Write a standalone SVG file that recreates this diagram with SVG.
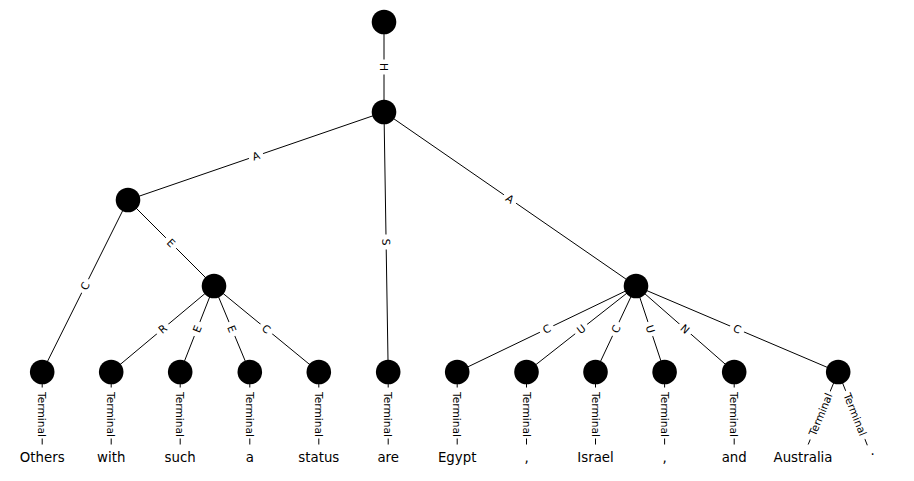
<svg xmlns="http://www.w3.org/2000/svg" width="914" height="481" viewBox="0 0 914 481">
<style>
.e{stroke:#000;stroke-width:1;fill:none}
.n{fill:#000}
.lb{fill:#fff;stroke:#fff}
.el{font-family:"DejaVu Sans",sans-serif;font-size:10.67px;fill:#000;text-anchor:middle}
.w{font-family:"DejaVu Sans",sans-serif;font-size:13.33px;fill:#000;text-anchor:middle}
</style>
<rect width="914" height="481" fill="#fff"/>
<g id="connectors">
<line class="e" x1="384" y1="22" x2="384" y2="112"/>
<line class="e" x1="384" y1="112" x2="128" y2="200"/>
<line class="e" x1="384" y1="112" x2="388.2" y2="372"/>
<line class="e" x1="384" y1="112" x2="636" y2="286"/>
<line class="e" x1="128" y1="200" x2="42.2" y2="372"/>
<line class="e" x1="128" y1="200" x2="214" y2="286"/>
<line class="e" x1="214" y1="286" x2="111.2" y2="372"/>
<line class="e" x1="214" y1="286" x2="180.2" y2="372"/>
<line class="e" x1="214" y1="286" x2="249.8" y2="372"/>
<line class="e" x1="214" y1="286" x2="318.8" y2="372"/>
<line class="e" x1="636" y1="286" x2="457.2" y2="372"/>
<line class="e" x1="636" y1="286" x2="526.5" y2="372"/>
<line class="e" x1="636" y1="286" x2="595.5" y2="372"/>
<line class="e" x1="636" y1="286" x2="664.6" y2="372"/>
<line class="e" x1="636" y1="286" x2="734.2" y2="372"/>
<line class="e" x1="636" y1="286" x2="838.2" y2="372"/>
<line class="e" x1="42.2" y1="372" x2="42.2" y2="457"/>
<line class="e" x1="111.2" y1="372" x2="111.2" y2="457"/>
<line class="e" x1="180.2" y1="372" x2="180.2" y2="457"/>
<line class="e" x1="249.8" y1="372" x2="249.8" y2="457"/>
<line class="e" x1="318.8" y1="372" x2="318.8" y2="457"/>
<line class="e" x1="388.2" y1="372" x2="388.2" y2="457"/>
<line class="e" x1="457.2" y1="372" x2="457.2" y2="457"/>
<line class="e" x1="526.5" y1="372" x2="526.5" y2="457"/>
<line class="e" x1="595.5" y1="372" x2="595.5" y2="457"/>
<line class="e" x1="664.6" y1="372" x2="664.6" y2="457"/>
<line class="e" x1="734.2" y1="372" x2="734.2" y2="457"/>
<line class="e" x1="838.2" y1="372" x2="803" y2="457"/>
<line class="e" x1="838.2" y1="372" x2="872" y2="457"/>
<!-- edge labels -->
<g transform="translate(384,67) rotate(90)"><rect class="lb" x="-7" y="-9" width="14" height="18" rx="3"/><text class="el" y="3.8">H</text></g>
<g transform="translate(256,156) rotate(-19)"><rect class="lb" x="-7" y="-9" width="14" height="18" rx="3"/><text class="el" y="3.8">A</text></g>
<g transform="translate(386.1,242) rotate(89.1)"><rect class="lb" x="-7" y="-9" width="14" height="18" rx="3"/><text class="el" y="3.8">S</text></g>
<g transform="translate(510,199) rotate(34.6)"><rect class="lb" x="-7" y="-9" width="14" height="18" rx="3"/><text class="el" y="3.8">A</text></g>
<g transform="translate(85.1,286) rotate(-63.4)"><rect class="lb" x="-7" y="-9" width="14" height="18" rx="3"/><text class="el" y="3.8">C</text></g>
<g transform="translate(171,243) rotate(45)"><rect class="lb" x="-7" y="-9" width="14" height="18" rx="3"/><text class="el" y="3.8">E</text></g>
<g transform="translate(162.6,329) rotate(-39.9)"><rect class="lb" x="-7" y="-9" width="14" height="18" rx="3"/><text class="el" y="3.8">R</text></g>
<g transform="translate(197.1,329) rotate(-68.4)"><rect class="lb" x="-7" y="-9" width="14" height="18" rx="3"/><text class="el" y="3.8">E</text></g>
<g transform="translate(231.9,329) rotate(67.9)"><rect class="lb" x="-7" y="-9" width="14" height="18" rx="3"/><text class="el" y="3.8">E</text></g>
<g transform="translate(266.4,329) rotate(39.6)"><rect class="lb" x="-7" y="-9" width="14" height="18" rx="3"/><text class="el" y="3.8">C</text></g>
<g transform="translate(546.6,329) rotate(-25.7)"><rect class="lb" x="-7" y="-9" width="14" height="18" rx="3"/><text class="el" y="3.8">C</text></g>
<g transform="translate(581.2,329) rotate(-38)"><rect class="lb" x="-7" y="-9" width="14" height="18" rx="3"/><text class="el" y="3.8">U</text></g>
<g transform="translate(615.8,329) rotate(-64.5)"><rect class="lb" x="-7" y="-9" width="14" height="18" rx="3"/><text class="el" y="3.8">C</text></g>
<g transform="translate(650.3,329) rotate(72)"><rect class="lb" x="-7" y="-9" width="14" height="18" rx="3"/><text class="el" y="3.8">U</text></g>
<g transform="translate(685.1,329) rotate(41.3)"><rect class="lb" x="-7" y="-9" width="14" height="18" rx="3"/><text class="el" y="3.8">N</text></g>
<g transform="translate(737.1,329) rotate(23.1)"><rect class="lb" x="-7" y="-9" width="14" height="18" rx="3"/><text class="el" y="3.8">C</text></g>
<g transform="translate(42.2,414.5) rotate(90)"><rect class="lb" x="-26.5" y="-9" width="50" height="18" rx="3"/><text class="el" y="3.8">Terminal</text></g>
<g transform="translate(111.2,414.5) rotate(90)"><rect class="lb" x="-26.5" y="-9" width="50" height="18" rx="3"/><text class="el" y="3.8">Terminal</text></g>
<g transform="translate(180.2,414.5) rotate(90)"><rect class="lb" x="-26.5" y="-9" width="50" height="18" rx="3"/><text class="el" y="3.8">Terminal</text></g>
<g transform="translate(249.8,414.5) rotate(90)"><rect class="lb" x="-26.5" y="-9" width="50" height="18" rx="3"/><text class="el" y="3.8">Terminal</text></g>
<g transform="translate(318.8,414.5) rotate(90)"><rect class="lb" x="-26.5" y="-9" width="50" height="18" rx="3"/><text class="el" y="3.8">Terminal</text></g>
<g transform="translate(388.2,414.5) rotate(90)"><rect class="lb" x="-26.5" y="-9" width="50" height="18" rx="3"/><text class="el" y="3.8">Terminal</text></g>
<g transform="translate(457.2,414.5) rotate(90)"><rect class="lb" x="-26.5" y="-9" width="50" height="18" rx="3"/><text class="el" y="3.8">Terminal</text></g>
<g transform="translate(526.5,414.5) rotate(90)"><rect class="lb" x="-26.5" y="-9" width="50" height="18" rx="3"/><text class="el" y="3.8">Terminal</text></g>
<g transform="translate(595.5,414.5) rotate(90)"><rect class="lb" x="-26.5" y="-9" width="50" height="18" rx="3"/><text class="el" y="3.8">Terminal</text></g>
<g transform="translate(664.6,414.5) rotate(90)"><rect class="lb" x="-26.5" y="-9" width="50" height="18" rx="3"/><text class="el" y="3.8">Terminal</text></g>
<g transform="translate(734.2,414.5) rotate(90)"><rect class="lb" x="-26.5" y="-9" width="50" height="18" rx="3"/><text class="el" y="3.8">Terminal</text></g>
<g transform="translate(820.6,414.5) rotate(-67.6)"><rect class="lb" x="-26.5" y="-9" width="51" height="18" rx="3"/><text class="el" y="3.8">Terminal</text></g>
<g transform="translate(855.1,414.5) rotate(68.2)"><rect class="lb" x="-25" y="-9" width="51" height="18" rx="3"/><text class="el" y="3.8">Terminal</text></g>
</g>
<g id="root"><circle class="n" cx="384" cy="22" r="12.3"/></g>
<g id="n1"><circle class="n" cx="384" cy="112" r="12.3"/></g>
<g id="n2"><circle class="n" cx="128" cy="200" r="12.3"/></g>
<g id="n3"><circle class="n" cx="214" cy="286" r="12.3"/></g>
<g id="n4"><circle class="n" cx="636" cy="286" r="12.3"/></g>
<g id="t0"><circle class="n" cx="42.2" cy="372" r="12.3"/></g>
<g id="t1"><circle class="n" cx="111.2" cy="372" r="12.3"/></g>
<g id="t2"><circle class="n" cx="180.2" cy="372" r="12.3"/></g>
<g id="t3"><circle class="n" cx="249.8" cy="372" r="12.3"/></g>
<g id="t4"><circle class="n" cx="318.8" cy="372" r="12.3"/></g>
<g id="t5"><circle class="n" cx="388.2" cy="372" r="12.3"/></g>
<g id="t6"><circle class="n" cx="457.2" cy="372" r="12.3"/></g>
<g id="t7"><circle class="n" cx="526.5" cy="372" r="12.3"/></g>
<g id="t8"><circle class="n" cx="595.5" cy="372" r="12.3"/></g>
<g id="t9"><circle class="n" cx="664.6" cy="372" r="12.3"/></g>
<g id="t10"><circle class="n" cx="734.2" cy="372" r="12.3"/></g>
<g id="t11"><circle class="n" cx="838.2" cy="372" r="12.3"/></g>
<g id="w0"><rect class="lb" x="16" y="445" width="53" height="24" rx="4"/><text class="w" x="42.2" y="461.5">Others</text></g>
<g id="w1"><rect class="lb" x="93" y="445" width="36" height="24" rx="4"/><text class="w" x="111.2" y="461.5">with</text></g>
<g id="w2"><rect class="lb" x="161" y="445" width="39" height="24" rx="4"/><text class="w" x="180.2" y="461.5">such</text></g>
<g id="w3"><rect class="lb" x="241" y="445" width="17" height="24" rx="4"/><text class="w" x="249.8" y="461.5">a</text></g>
<g id="w4"><rect class="lb" x="294" y="445" width="50" height="24" rx="4"/><text class="w" x="318.8" y="461.5">status</text></g>
<g id="w5"><rect class="lb" x="373" y="445" width="30" height="24" rx="4"/><text class="w" x="388.2" y="461.5">are</text></g>
<g id="w6"><rect class="lb" x="434" y="445" width="47" height="24" rx="4"/><text class="w" x="457.2" y="461.5">Egypt</text></g>
<g id="w7"><rect class="lb" x="520" y="445" width="13" height="24" rx="4"/><text class="w" x="526.5" y="461.5">,</text></g>
<g id="w8"><rect class="lb" x="573" y="445" width="45" height="24" rx="4"/><text class="w" x="595.5" y="461.5">Israel</text></g>
<g id="w9"><rect class="lb" x="658" y="445" width="13" height="24" rx="4"/><text class="w" x="664.6" y="461.5">,</text></g>
<g id="w10"><rect class="lb" x="717" y="445" width="34" height="24" rx="4"/><text class="w" x="734.2" y="461.5">and</text></g>
<g id="w11"><rect class="lb" x="769" y="445" width="68" height="24" rx="4"/><text class="w" x="803" y="461.5">Australia</text></g>
<g id="w12"><rect class="lb" x="866" y="445" width="13" height="24" rx="4"/><text class="w" x="872.5" y="454.5">.</text></g>
</svg>
